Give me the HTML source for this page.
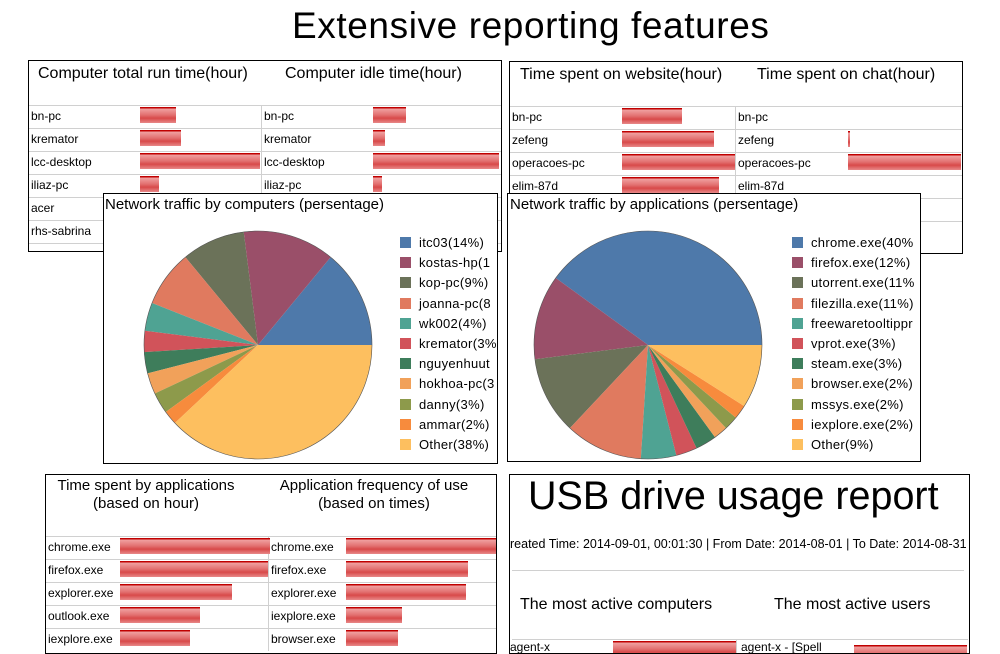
<!DOCTYPE html><html><head><meta charset="utf-8"><style>
body{margin:0;width:1000px;height:647px;background:#fff;overflow:hidden;position:relative;font-family:"Liberation Sans",sans-serif;}
.p{position:absolute;border:1px solid #000;background:#fff;overflow:hidden;box-sizing:border-box}
.t{position:absolute;font-size:16px;color:#000;white-space:nowrap}
.r{position:absolute;font-size:12px;color:#000;white-space:nowrap}
.hl{position:absolute;height:1px;background:#d0d0d0}
.vl{position:absolute;width:1px;background:#d0d0d0}
.b{position:absolute;height:16px;background:linear-gradient(#c00000 0,#c00000 1px,#f0a0a0 2px,#e27070 50%,#d84a4a 70%,#e88888 100%)}
.lg{position:absolute;font-size:13px;white-space:nowrap;letter-spacing:0.3px}
.lg i{display:inline-block;width:11px;height:11px;margin-right:8px;vertical-align:-1px}
</style></head><body>
<div class="t" style="left:292px;top:5px;font-size:37px;letter-spacing:0.6px">Extensive reporting features</div>

<div class="p" style="left:28px;top:60px;width:474px;height:192px">
<div class="t" style="left:9px;top:4px">Computer total run time(hour)</div>
<div class="t" style="left:256px;top:4px">Computer idle time(hour)</div>
<div id="tl"></div>
</div>

<div class="p" style="left:509px;top:61px;width:454px;height:193px">
<div class="t" style="left:10px;top:4px">Time spent on website(hour)</div>
<div class="t" style="left:247px;top:4px">Time spent on chat(hour)</div>
<div id="tr"></div>
</div>

<div class="p" style="left:103px;top:193px;width:395px;height:271px">
<div class="t" style="left:1px;top:2px;font-size:15px">Network traffic by computers (persentage)</div>
<svg width="395" height="271" style="position:absolute;left:0;top:0" id="pie1"></svg>
<div id="lg1"></div>
</div>

<div class="p" style="left:507px;top:193px;width:414px;height:269px">
<div class="t" style="left:2px;top:2px;font-size:15px">Network traffic by applications (persentage)</div>
<svg width="414" height="269" style="position:absolute;left:0;top:0" id="pie2"></svg>
<div id="lg2"></div>
</div>

<div class="p" style="left:45px;top:474px;width:452px;height:180px">
<div class="t" style="left:10px;top:2px;text-align:center;width:180px;line-height:18px;font-size:15px">Time spent by applications<br>(based on hour)</div>
<div class="t" style="left:228px;top:2px;text-align:center;width:200px;line-height:18px;font-size:15px">Application frequency of use<br>(based on times)</div>
<div id="bl"></div>
</div>

<div class="p" style="left:509px;top:474px;width:461px;height:180px">
<div class="t" style="left:18px;top:-1px;font-size:39.5px">USB drive usage report</div>
<div class="t" style="left:0px;top:62px;font-size:12.5px">reated Time: 2014-09-01, 00:01:30 | From Date: 2014-08-01 | To Date: 2014-08-31</div>
<div class="hl" style="left:2px;top:95px;width:452px"></div>
<div class="t" style="left:10px;top:121px">The most active computers</div>
<div class="t" style="left:264px;top:121px">The most active users</div>
<div class="hl" style="left:2px;top:164px;width:456px"></div>
<div class="vl" style="left:226px;top:164px;height:20px"></div>
<div class="r" style="left:0;top:165px">agent-x</div>
<div class="b" style="left:103px;top:166px;width:123px"></div>
<div class="r" style="left:231px;top:165px">agent-x - [Spell</div>
<div class="b" style="left:344px;top:170px;width:113px"></div>
</div>

<script>
function table(id,rows,top,rh,cx,c1,c2,wd){
 let h='';
 rows.forEach((r,i)=>{let y=top+i*rh;
  h+=`<div class="hl" style="left:0;top:${y}px;width:${wd}px"></div>`;
  h+=`<div class="vl" style="left:${cx}px;top:${y}px;height:${rh}px"></div>`;
  h+=`<div class="r" style="left:2px;top:${y+4}px">${r[0]}</div>`;
  if(r[1])h+=`<div class="b" style="left:${c1}px;top:${y+2}px;width:${r[1]}px"></div>`;
  h+=`<div class="r" style="left:${cx+3}px;top:${y+4}px">${r[2]}</div>`;
  if(r[3])h+=`<div class="b" style="left:${c2}px;top:${y+2}px;width:${r[3]}px"></div>`;
 });
 document.getElementById(id).innerHTML=h;
}
table('tl',[['bn-pc',36,'bn-pc',33],['kremator',41,'kremator',12],['lcc-desktop',120,'lcc-desktop',126],['iliaz-pc',19,'iliaz-pc',9],['acer',0,'',0],['rhs-sabrina',0,'',0],['',0,'',0]],44,23,232,111,344,474);
table('tr',[['bn-pc',60,'bn-pc',0],['zefeng',92,'zefeng',2],['operacoes-pc',113,'operacoes-pc',113],['elim-87d',97,'elim-87d',0],['',0,'',0],['',0,'',0]],44,23,225,112,338,454);
table('bl',[['chrome.exe',150,'chrome.exe',150],['firefox.exe',148,'firefox.exe',122],['explorer.exe',112,'explorer.exe',120],['outlook.exe',80,'iexplore.exe',56],['iexplore.exe',70,'browser.exe',52]],61,23,222,74,300,452);
function pie(id,cx,cy,r,data){
 let a=0,s='';
 data.forEach(d=>{let a2=a+d[0]*3.6*Math.PI/180;
  let x1=cx+r*Math.cos(a),y1=cy-r*Math.sin(a),x2=cx+r*Math.cos(a2),y2=cy-r*Math.sin(a2);
  s+=`<path d="M${cx},${cy}L${x1},${y1}A${r},${r} 0 ${a2-a>Math.PI?1:0} 0 ${x2},${y2}Z" fill="${d[1]}"/>`;a=a2;});
 s+=`<circle cx="${cx}" cy="${cy}" r="${r}" fill="none" stroke="#555" stroke-width="0.6"/>`;
 document.getElementById(id).innerHTML=s;
}
const C=['#4e79aa','#9a4f69','#6b7259','#e07a5f','#4fa393','#d1535a','#3e7d5b','#f1a15a','#8d9a4b','#f78b3d','#fdbf5f'];
pie('pie1',154,151,114,[[14,C[0]],[13,C[1]],[9,C[2]],[8,C[3]],[4,C[4]],[3,C[5]],[3,C[6]],[3,C[7]],[3,C[8]],[2,C[9]],[38,C[10]]]);
pie('pie2',140,151,114,[[40,C[0]],[12,C[1]],[11,C[2]],[11,C[3]],[5,C[4]],[3,C[5]],[3,C[6]],[2,C[7]],[2,C[8]],[2,C[9]],[9,C[10]]]);
function lg(id,x,y,items){let h='';items.forEach((t,i)=>h+=`<div class="lg" style="left:${x}px;top:${y+i*20.2}px"><i style="background:${C[i]}"></i>${t}</div>`);document.getElementById(id).innerHTML=h;}
lg('lg1',296,41,['itc03(14%)','kostas-hp(1','kop-pc(9%)','joanna-pc(8','wk002(4%)','kremator(3%','nguyenhuut','hokhoa-pc(3','danny(3%)','ammar(2%)','Other(38%)']);
lg('lg2',284,41,['chrome.exe(40%','firefox.exe(12%)','utorrent.exe(11%','filezilla.exe(11%)','freewaretooltippr','vprot.exe(3%)','steam.exe(3%)','browser.exe(2%)','mssys.exe(2%)','iexplore.exe(2%)','Other(9%)']);
</script>
</body></html>
